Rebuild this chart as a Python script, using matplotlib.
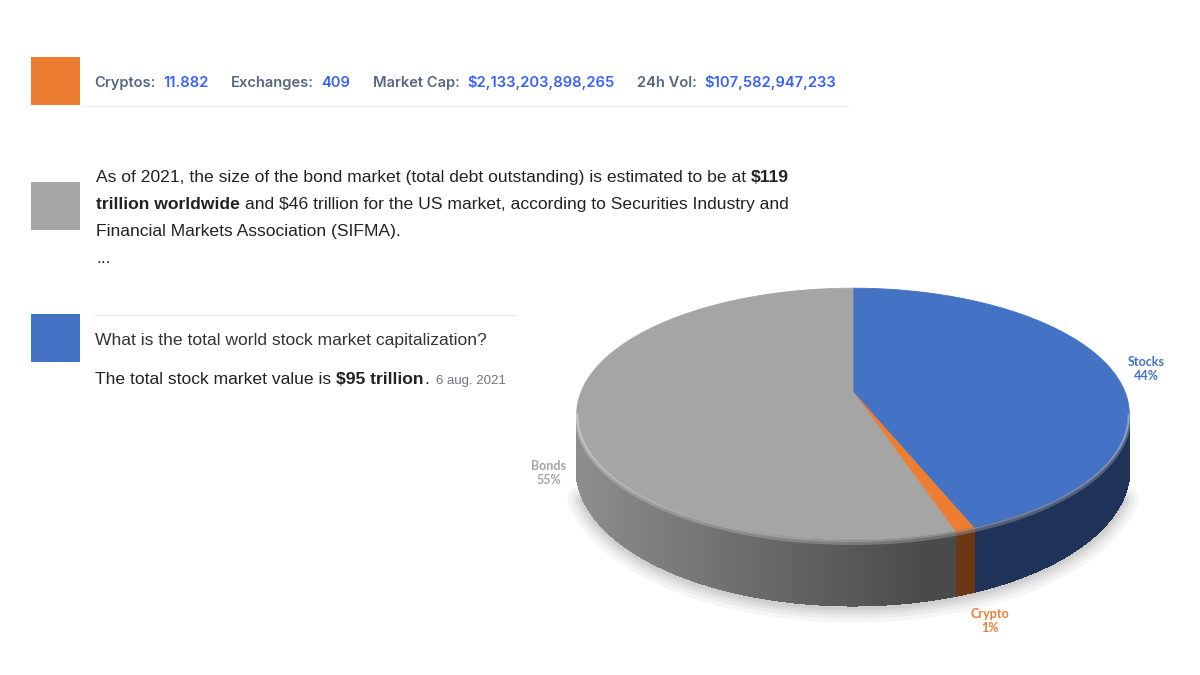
import numpy as np
import matplotlib.pyplot as plt
from matplotlib.patches import Polygon, Rectangle
from matplotlib.colors import to_rgb

# pie data, trillion USD (2021)
labels = ["Stocks", "Crypto", "Bonds"]
values = [95, 2.133, 119]
colors = ["#4472C4", "#ED7D31", "#A5A5A5"]

# header strip
stat_names = ["Cryptos:", "Exchanges:", "Market Cap:", "24h Vol:"]
stat_values = ["11.882", "409", "$2,133,203,898,265", "$107,582,947,233"]

bond_lines = [
    [("As of 2021, the size of the bond market (total debt outstanding) is estimated to be at", "normal"),
     ("$119", "bold")],
    [("trillion worldwide", "bold"),
     ("and $46 trillion for the US market, according to Securities Industry and", "normal")],
    [("Financial Markets Association (SIFMA).", "normal")],
    [("...", "normal")],
]
stock_question = "What is the total world stock market capitalization?"
stock_answer = [("The total stock market value is", "normal"), ("$95 trillion", "bold")]
stock_date = "6 aug. 2021"

fig = plt.figure(figsize=(12, 6.75), dpi=100)
ax = fig.add_axes([0, 0, 1, 1])
ax.set_xlim(0, 1200)
ax.set_ylim(675, 0)
ax.axis('off')
r = fig.canvas.get_renderer()


def esc(s):
    return s.replace("$", r"\$")


def run(x, y, parts, size, family):
    # parts: (text, weight, color, gap before)
    for s, w, c, gap in parts:
        x += gap
        t = ax.text(x, y, esc(s), fontsize=size, fontweight=w, color=c,
                    family=family, va='baseline', ha='left')
        x += t.get_window_extent(renderer=r).width
    return x


# colour keys
for c, y0 in zip(["#ED7D31", "#A5A5A5", "#4472C4"], [57, 182, 314]):
    ax.add_patch(Rectangle((31, y0), 49, 48, color=c, lw=0))

# header strip
parts = []
for i, (n, v) in enumerate(zip(stat_names, stat_values)):
    parts.append((n, 'semibold', '#58667E', 0 if i == 0 else 22))
    parts.append((v, 'semibold', '#3861FB', 8))
run(94, 87, parts, 10.6, 'Inter')
ax.plot([82, 848], [106, 106], color='#EEEEEE', lw=1)

# bond paragraph
TXT = 12.6
for i, line in enumerate(bond_lines):
    parts = [(s, w, '#222222', 0 if j == 0 else 4.8) for j, (s, w) in enumerate(line)]
    run(96, 182 + i * 27, parts, TXT, 'Liberation Sans')

# stocks block
ax.plot([95, 516], [315, 315], color='#E8E8E8', lw=1)
run(95, 345, [(stock_question, 'normal', '#333333', 0)], TXT, 'Liberation Sans')
x = run(95, 384, [(s, w, '#222222', 0 if j == 0 else 4.8) for j, (s, w) in enumerate(stock_answer)]
        + [(".", 'normal', '#222222', 1)], TXT, 'Liberation Sans')
run(x, 384, [(stock_date, 'normal', '#70757A', 7)], 9.5, 'Liberation Sans')

# 3D pie
CX, CY, RX, RY, K, DEPTH = 853, 392, 272, 122, 0.175, 54


def proj(phi, drop=0.0):
    u, v = np.sin(phi), -np.cos(phi)
    s = 1.0 / (1.0 - K * v)
    return CX + RX * u * s, CY + (RY * v + drop) * s


fr = np.array(values) / np.sum(values)
edges = np.concatenate([[0], np.cumsum(fr)]) * 2 * np.pi

# soft shadow under the pie
ph = np.linspace(0.62 * np.pi, 1.38 * np.pi, 300)
sx, sy = proj(ph, DEPTH)
for lw in [22, 16, 11, 7, 4]:
    ax.plot(sx, sy + 2, color='black', alpha=0.04, lw=lw, solid_capstyle='round', zorder=1)

# side wall (only the part facing the viewer)
strips = []
for i, c in enumerate(colors):
    n = max(4, int(fr[i] * 720))
    ph = np.linspace(edges[i], edges[i + 1], n)
    for a0, a1 in zip(ph[:-1], ph[1:]):
        vm = -np.cos((a0 + a1) / 2)
        if vm < K + 0.01:
            continue
        x0, y0 = proj(a0)
        x1, y1 = proj(a1)
        x2, y2 = proj(a1, DEPTH)
        x3, y3 = proj(a0, DEPTH)
        xm = (x0 + x1) / 2
        t = (xm - (CX - RX * 1.02)) / (2 * RX * 1.02)
        f = max(0.86 - 0.65 * t, 0.45)
        col = tuple(np.array(to_rgb(c)) * f)
        strips.append((vm, [(x0, y0), (x1, y1), (x2, y2), (x3, y3)], col))
strips.sort(key=lambda s: s[0])
for _, pts, col in strips:
    ax.add_patch(Polygon(pts, closed=True, fc=col, ec=col, lw=1.0, antialiased=False, zorder=2))

# top face
for i, c in enumerate(colors):
    n = max(4, int(fr[i] * 720))
    ph = np.linspace(edges[i], edges[i + 1], n)
    xs, ys = proj(ph)
    pts = [(CX, CY)] + list(zip(xs, ys))
    ax.add_patch(Polygon(pts, closed=True, fc=c, ec=c, lw=0.6, zorder=3))

# bevel highlight on the front rim
ph = np.linspace(np.arccos(-K), 2 * np.pi - np.arccos(-K), 300)
hx, hy = proj(ph, 2.5)
ax.plot(hx, hy, color='white', alpha=0.22, lw=3, zorder=4)
hx, hy = proj(ph, 1)
ax.plot(hx, hy, color='white', alpha=0.25, lw=1.2, zorder=4)

# data labels
label_pos = [(1146, 369), (990, 621), (549, 473)]
for lab, f, c, (lx, ly) in zip(labels, fr, colors, label_pos):
    ax.text(lx, ly, f"{lab}\n{f * 100:.0f}%", color=c, fontsize=9, fontweight='bold',
            family='Lato', ha='center', va='center', linespacing=1.3, zorder=5)

plt.savefig('out.png', dpi=100)
